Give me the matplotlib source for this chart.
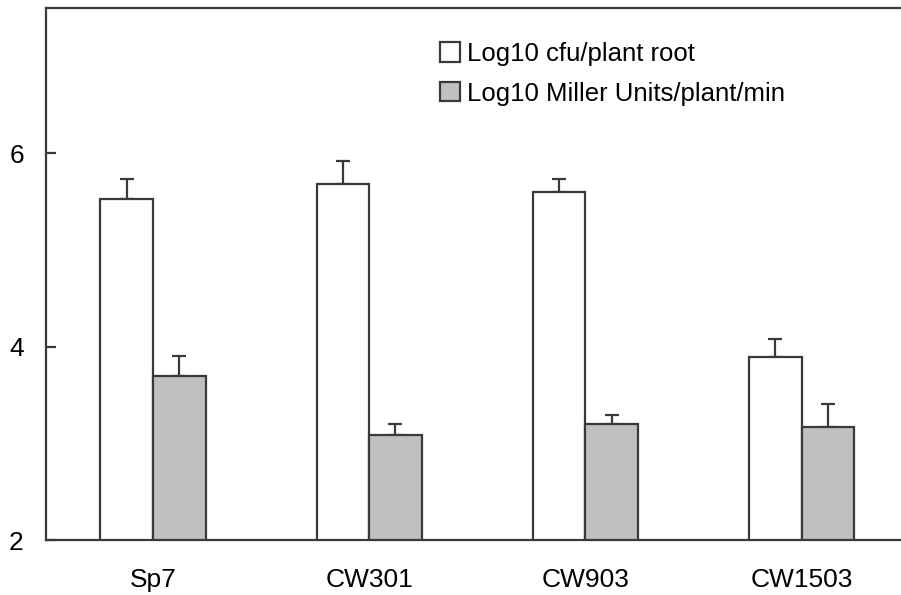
import numpy as np
import matplotlib.pyplot as plt

plt.rcParams['font.family'] = ['Liberation Sans', 'DejaVu Sans']

strains = ['Sp7', 'CW301', 'CW903', 'CW1503']
cfu = [5.53, 5.68, 5.60, 3.89]
cfu_err = [0.20, 0.24, 0.13, 0.19]
miller = [3.70, 3.09, 3.20, 3.17]
miller_err = [0.20, 0.11, 0.09, 0.24]

edge = '#3a3a3a'
lw = 1.6
w = 0.243

fig = plt.figure(figsize=(9.01, 5.95), dpi=100)
ax = fig.add_axes([46 / 901, 1 - 540 / 595, 855 / 901, 532 / 595])

x = np.arange(len(strains))
ax.bar(x - w / 2, cfu, w, color='white', edgecolor=edge, linewidth=lw,
       label='Log10 cfu/plant root', zorder=2)
ax.bar(x + w / 2, miller, w, color='#c0c0c0', edgecolor=edge, linewidth=lw,
       label='Log10 Miller Units/plant/min', zorder=2)

# upper error bars only
ax.errorbar(x - w / 2, cfu, yerr=[np.zeros(4), cfu_err], fmt='none',
            ecolor=edge, elinewidth=lw, capsize=5, capthick=lw, zorder=1)
ax.errorbar(x + w / 2, miller, yerr=[np.zeros(4), miller_err], fmt='none',
            ecolor=edge, elinewidth=lw, capsize=5, capthick=lw, zorder=1)

ax.set_ylim(2, 7.5)
ax.set_xlim(-0.495, 3.46)
ax.set_yticks([2, 4, 6])
ax.set_xticks(x)
ax.set_xticklabels(strains)
ax.tick_params(axis='x', length=0, pad=20, labelsize=19)
ax.tick_params(axis='y', direction='in', length=7, width=lw, color=edge,
               pad=16, labelsize=19)

for s in ['left', 'bottom', 'top']:
    ax.spines[s].set_linewidth(lw)
    ax.spines[s].set_color(edge)
ax.spines['right'].set_visible(False)

ax.legend(loc='upper left', bbox_to_anchor=(0.461, 0.936), frameon=False,
          fontsize=18.5, handlelength=0.78, handleheight=0.78, handletextpad=0.25,
          labelspacing=0.61, borderaxespad=0, borderpad=0)

fig.savefig('out.png', dpi=100)
